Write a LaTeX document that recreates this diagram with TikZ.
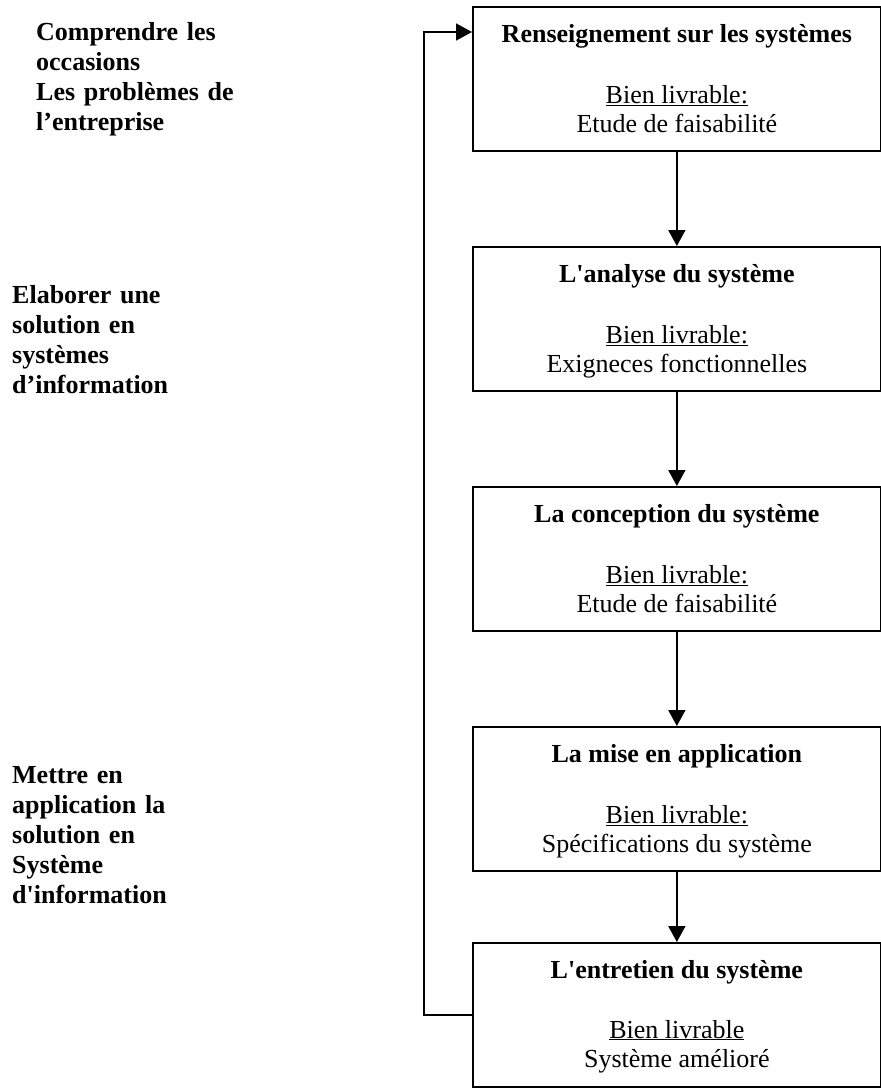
\documentclass[tikz,border=0pt]{standalone}
\usepackage{fontspec}
\setmainfont{Liberation Serif}
\usetikzlibrary{arrows.meta,calc}
\begin{document}
\begin{tikzpicture}[x=1pt,y=-1pt,
  stagebox/.style={draw,line width=1.7pt,minimum width=408pt,minimum height=144pt,inner sep=0pt,anchor=north west},
  boxtxt/.style={anchor=base,inner sep=0pt,font=\fontsize{26}{29}\selectfont},
  sidelabel/.style={anchor=base west,inner sep=0pt,text width=260pt,align=left,font=\fontsize{26}{30}\selectfont\bfseries},
  arr/.style={line width=1.7pt,-{Triangle[length=16pt,width=17pt]}}]
\useasboundingbox (0,0) rectangle (881,1090);

% stage boxes
\node[stagebox] (b1) at (472,6) {};
\node[stagebox] (b2) at (472,246) {};
\node[stagebox] (b3) at (472,486) {};
\node[stagebox] (b4) at (472,726) {};
\node[stagebox] (b5) at (472,942) {};

% texts in boxes
\node[boxtxt] (t1a) at ($(b1.north)+(0,36)$) {\textbf{Renseignement sur les systèmes}};
\node[boxtxt] (t1b) at ($(b1.north)+(0,97)$) {\underline{Bien livrable:}};
\node[boxtxt] (t1c) at ($(b1.north)+(0,126)$) {Etude de faisabilité};

\node[boxtxt] (t2a) at ($(b2.north)+(0,36)$) {\textbf{L\textquotesingle analyse du système}};
\node[boxtxt] (t2b) at ($(b2.north)+(0,97)$) {\underline{Bien livrable:}};
\node[boxtxt] (t2c) at ($(b2.north)+(0,126)$) {Exigneces fonctionnelles};

\node[boxtxt] (t3a) at ($(b3.north)+(0,36)$) {\textbf{La conception du système}};
\node[boxtxt] (t3b) at ($(b3.north)+(0,97)$) {\underline{Bien livrable:}};
\node[boxtxt] (t3c) at ($(b3.north)+(0,126)$) {Etude de faisabilité};

\node[boxtxt] (t4a) at ($(b4.north)+(0,36)$) {\textbf{La mise en application}};
\node[boxtxt] (t4b) at ($(b4.north)+(0,97)$) {\underline{Bien livrable:}};
\node[boxtxt] (t4c) at ($(b4.north)+(0,126)$) {Spécifications du système};

\node[boxtxt] (t5a) at ($(b5.north)+(0,36)$) {\textbf{L\textquotesingle entretien du système}};
\node[boxtxt] (t5b) at ($(b5.north)+(0,96)$) {\underline{Bien livrable}};
\node[boxtxt] (t5c) at ($(b5.north)+(0,125)$) {Système amélioré};

% side labels
\node[sidelabel] (l1) at (36,40) {Comprendre les\\occasions\\Les problèmes de\\l’entreprise};
\node[sidelabel] (l2) at (12,303) {Elaborer une\\solution en\\systèmes\\d’information};
\node[sidelabel] (l3) at (12,783) {Mettre en\\application la\\solution en\\Système\\d\textquotesingle information};

% connectors
\draw[arr] (b1.south) -- (b2.north);
\draw[arr] (b2.south) -- (b3.north);
\draw[arr] (b3.south) -- (b4.north);
\draw[arr] (b4.south) -- (b5.north);
\coordinate (fb) at (424,32);
\draw[arr] (b5.west) -| (fb) -- (b1.west |- fb);
\end{tikzpicture}
\end{document}
